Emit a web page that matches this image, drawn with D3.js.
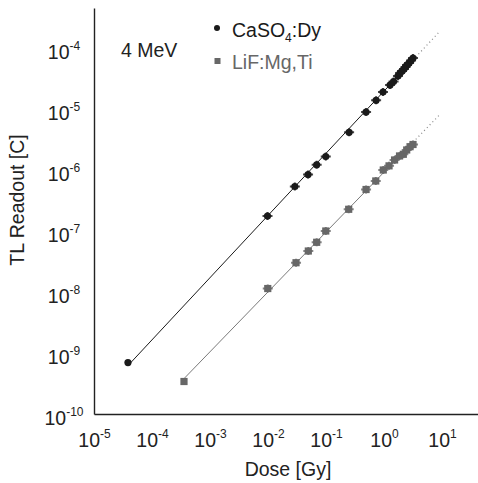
<!DOCTYPE html>
<html>
<head>
<meta charset="utf-8">
<script src="https://cdn.jsdelivr.net/npm/d3@7"></script>
<style>
  body { margin: 0; background: #fff; }
  svg { display: block; font-family: "Liberation Sans", Arial, sans-serif; }
</style>
</head>
<body>
<div id="chart"></div>
<script>
// Dose [Gy] and TL readout [C]
var doseCaSO4 = [3.85e-5, 0.0098, 0.029, 0.049, 0.069, 0.099, 0.25, 0.49, 0.73, 0.96,
  1.27, 1.46, 1.74, 1.89, 2.04, 2.21, 2.35, 2.49, 2.7, 2.92, 3.16]
var readCaSO4 = [6.98e-10, 1.76e-7, 5.37e-7, 8.43e-7, 1.22e-6, 1.66e-6, 4.15e-6, 8.93e-6, 1.39e-5, 1.9e-5,
  2.47e-5, 2.82e-5, 3.48e-5, 3.89e-5, 4.2e-5, 4.53e-5, 4.89e-5, 5.26e-5, 5.68e-5, 6.24e-5, 6.85e-5]

var doseLiF = [3.56e-4, 0.0099, 0.0304, 0.0495, 0.069, 0.099, 0.246, 0.49, 0.72, 0.97,
  1.22, 1.52, 1.85, 2.15, 2.46, 2.81, 3.16]
var readLiF = [3.41e-10, 1.14e-8, 3.02e-8, 4.7e-8, 6.53e-8, 1.0e-7, 2.27e-7, 4.79e-7, 6.61e-7, 1.0e-6,
  1.17e-6, 1.46e-6, 1.7e-6, 1.81e-6, 2.13e-6, 2.41e-6, 2.62e-6]

var xTicks = [1e-5, 1e-4, 1e-3, 1e-2, 1e-1, 1e0, 1e1]
var yTicks = [1e-10, 1e-9, 1e-8, 1e-7, 1e-6, 1e-5, 1e-4]
var extendDose = 9.2 // dotted extrapolation of the fits
var energyLabel = '4 MeV'

var WIDTH = 478
var HEIGHT = 483
var FONT = 19.5
var axisLeftX = 94
var axisBottomY = 414

var svg = d3.select('#chart')
  .append('svg')
  .attr('width', WIDTH)
  .attr('height', HEIGHT)

var x = d3.scaleLog()
  .domain([1e-5, Math.pow(10, 1.62)])
  .range([axisLeftX, WIDTH])

var y = d3.scaleLog()
  .domain([1e-10, Math.pow(10, -3.344)])
  .range([axisBottomY, 8])

// power labels: "10" with a raised exponent
function powerLabel(d) {
  var t = d3.select(this)
  t.text(null)
  t.append('tspan').text('10')
  t.append('tspan')
    .attr('dy', -9)
    .attr('font-size', 12)
    .text(String(Math.round(Math.log10(d))))
}

/* x axis */
var xAxis = svg.append('g')
  .attr('transform', 'translate(0,' + axisBottomY + ')')
  .call(d3.axisBottom(x).tickValues(xTicks).tickSize(0).tickSizeOuter(0).tickFormat(''))
xAxis.attr('font-size', FONT).attr('font-family', null)
xAxis.select('.domain').attr('stroke', '#222').attr('stroke-width', 1.4)
xAxis.selectAll('.tick text')
  .attr('y', 33)
  .attr('dy', 0)
  .attr('fill', '#222')
  .each(powerLabel)

/* y axis */
var yAxis = svg.append('g')
  .attr('transform', 'translate(' + axisLeftX + ',0)')
  .call(d3.axisLeft(y).tickValues(yTicks).tickSize(0).tickSizeOuter(0).tickFormat(''))
yAxis.attr('font-size', FONT).attr('font-family', null)
yAxis.select('.domain').attr('stroke', '#222').attr('stroke-width', 1.4)
yAxis.selectAll('.tick text')
  .attr('x', -30)
  .attr('dy', 10.5)
  .attr('text-anchor', 'middle')
  .attr('fill', '#222')
  .each(powerLabel)

// axis titles
svg.append('text')
  .attr('x', 288)
  .attr('y', 476)
  .attr('text-anchor', 'middle')
  .attr('font-size', FONT)
  .attr('fill', '#222')
  .text('Dose [Gy]')

svg.append('text')
  .attr('transform', 'translate(24,200) rotate(-90)')
  .attr('text-anchor', 'middle')
  .attr('font-size', FONT)
  .attr('fill', '#222')
  .text('TL Readout [C]')

svg.append('text')
  .attr('x', 121)
  .attr('y', 57)
  .attr('font-size', FONT)
  .attr('fill', '#222')
  .text(energyLabel)

// least squares fit in log-log space
function logFit(dose, read) {
  var xs = dose.map(Math.log10)
  var ys = read.map(Math.log10)
  var mx = d3.mean(xs), my = d3.mean(ys)
  var num = d3.sum(xs, function(v, i) { return (v - mx) * (ys[i] - my) })
  var den = d3.sum(xs, function(v) { return (v - mx) * (v - mx) })
  var b = num / den
  var a = my - b * mx
  return function(d) { return Math.pow(10, a + b * Math.log10(d)) }
}

var series = [
  { dose: doseCaSO4, read: readCaSO4, color: '#1a1a1a', line: '#1a1a1a', shape: 'circle' },
  { dose: doseLiF, read: readLiF, color: '#676767', line: '#7a7a7a', shape: 'square' }
]

series.forEach(function(s) {
  var f = logFit(s.dose, s.read)
  var lineGen = d3.line()
    .x(function(d) { return x(d) })
    .y(function(d) { return y(f(d)) })
  var lo = d3.min(s.dose), hi = d3.max(s.dose)

  svg.append('path')
    .datum([lo, hi])
    .attr('d', lineGen)
    .attr('fill', 'none')
    .attr('stroke', s.line)
    .attr('stroke-width', 1)

  svg.append('path')
    .datum([hi, extendDose])
    .attr('d', lineGen)
    .attr('fill', 'none')
    .attr('stroke', '#888')
    .attr('stroke-width', 1.2)
    .attr('stroke-dasharray', '1,3')

  var pts = svg.append('g').selectAll('g')
    .data(s.dose.map(function(d, i) { return { dose: d, read: s.read[i] } }))
    .join('g')
    .attr('transform', function(d) { return 'translate(' + x(d.dose) + ',' + y(d.read) + ')' })

  // small error caps around each marker
  pts.filter(function(d, i) { return i > 0 }).append('path')
    .attr('d', 'M-5,0H5M0,-4V4')
    .attr('stroke', s.color)
    .attr('stroke-width', 2)
    .attr('opacity', 0.8)

  if (s.shape === 'circle') {
    pts.append('circle').attr('r', 3.6).attr('fill', s.color)
  } else {
    pts.append('rect')
      .attr('x', -3.6).attr('y', -3.6)
      .attr('width', 7.2).attr('height', 7.2)
      .attr('fill', s.color)
  }
})

// legend
var legend = svg.append('g').attr('font-size', FONT)
legend.append('circle').attr('cx', 217).attr('cy', 28).attr('r', 3).attr('fill', '#1a1a1a')
var t1 = legend.append('text').attr('x', 232).attr('y', 37).attr('fill', '#1a1a1a')
t1.append('tspan').text('CaSO')
t1.append('tspan').attr('dy', 5).attr('font-size', 12).text('4')
t1.append('tspan').attr('dy', -5).text(':Dy')

legend.append('rect').attr('x', 214.5).attr('y', 58).attr('width', 6).attr('height', 6).attr('fill', '#676767')
legend.append('text').attr('x', 232).attr('y', 69).attr('fill', '#676767').text('LiF:Mg,Ti')
</script>
</body>
</html>
